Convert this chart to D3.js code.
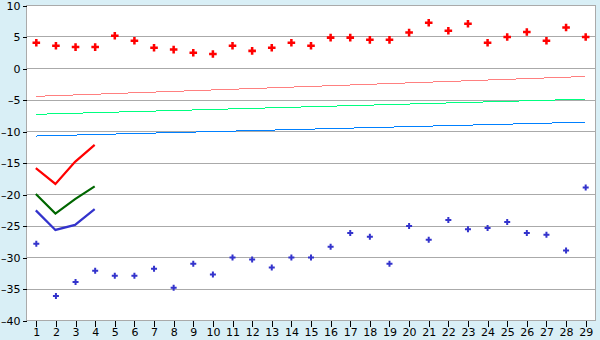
<!DOCTYPE html>
<html>
<head>
<meta charset="utf-8">
<script src="https://cdn.jsdelivr.net/npm/d3@7"></script>
<style>
  html, body { margin: 0; padding: 0; background: #d9eff6; }
  svg text { font-family: "DejaVu Sans", sans-serif; font-size: 11px; fill: #000; }
</style>
</head>
<body>
<svg id="chart" width="600" height="340"></svg>
<script>
var categories = d3.range(1, 30);
var yTicks = [10, 5, 0, -5, -10, -15, -20, -25, -30, -35, -40];

// scatter series
var redPoints = [4.1, 3.6, 3.4, 3.4, 5.2, 4.4, 3.3, 3.0, 2.5, 2.3, 3.6, 2.8, 3.3, 4.1, 3.6, 4.9, 4.9, 4.55, 4.55, 5.7, 7.25, 6.0, 7.1, 4.1, 5.0, 5.8, 4.4, 6.5, 5.0];
var bluePoints = [-27.8, -36.1, -33.9, -32.1, -32.9, -32.9, -31.8, -34.8, -31.0, -32.7, -30.0, -30.3, -31.6, -30.0, -30.0, -28.3, -26.1, -26.7, -31.0, -25.0, -27.2, -24.05, -25.5, -25.3, -24.35, -26.1, -26.4, -28.9, -18.9];

// short thick lines (first four categories)
var redLine = [-15.9, -18.4, -14.9, -12.2];
var greenLine = [-20.0, -23.1, -20.8, -18.8];
var blueLine = [-22.6, -25.7, -24.9, -22.4];

// thin trend lines: value at category 1 and at category 29
var trendCats = [1, 29];
var pinkTrend = [-4.5, -1.35];
var lightGreenTrend = [-7.35, -4.95];
var lightBlueTrend = [-10.8, -8.6];

var svg = d3.select("#chart");
var plotL = 26, plotR = 595, plotT = 5, plotB = 320;

var x = d3.scaleLinear().domain([0.5, 29.5]).range([plotL, plotR]);
var y = d3.scaleLinear().domain([-40, 10]).range([plotB, plotT]);

svg.append("rect")
  .attr("x", plotL).attr("y", plotT)
  .attr("width", plotR - plotL).attr("height", plotB - plotT)
  .attr("fill", "#fff");

// gridlines
svg.append("g").selectAll("line").data(yTicks).join("line")
  .attr("x1", plotL).attr("x2", plotR)
  .attr("y1", function (d) { return Math.round(y(d)) + 0.5; })
  .attr("y2", function (d) { return Math.round(y(d)) + 0.5; })
  .attr("stroke", "#aaa").attr("shape-rendering", "crispEdges");

// frame
svg.append("rect")
  .attr("x", plotL + 0.5).attr("y", plotT + 0.5)
  .attr("width", plotR - plotL).attr("height", plotB - plotT)
  .attr("fill", "none").attr("stroke", "#aaa")
  .attr("shape-rendering", "crispEdges");

// axes
var yAxis = d3.axisLeft(y).tickValues(yTicks).tickSize(4).tickPadding(2)
  .tickFormat(function (d) { return d < 0 ? "\u2013" + (-d) : d; });
var gy = svg.append("g").attr("transform", "translate(" + (plotL + 0.5) + ",0.5)").call(yAxis);
gy.select(".domain").remove();
gy.selectAll(".tick line").attr("stroke", "#000").attr("shape-rendering", "crispEdges");
gy.selectAll("text").attr("font-size", 11).attr("font-family", "DejaVu Sans");

var xAxis = d3.axisBottom(x).tickValues(categories).tickSize(6).tickPadding(2)
  .tickFormat(d3.format("d"));
var gx = svg.append("g").attr("transform", "translate(0.5," + (plotB + 0.5) + ")").call(xAxis);
gx.select(".domain").remove();
gx.selectAll(".tick line").attr("stroke", "#000").attr("shape-rendering", "crispEdges");
gx.selectAll("text").attr("font-size", 11).attr("font-family", "DejaVu Sans");

// trend lines
function trend(vals, color) {
  svg.append("path")
    .datum(trendCats.map(function (c, i) { return [c, vals[i]]; }))
    .attr("d", d3.line().x(function (d) { return x(d[0]); }).y(function (d) { return y(d[1]); }))
    .attr("fill", "none").attr("stroke", color).attr("stroke-width", 1)
    .attr("shape-rendering", "crispEdges");
}
trend(pinkTrend, "#ff8080");
trend(lightGreenTrend, "#00ff80");
trend(lightBlueTrend, "#0080ff");

// short thick lines
function thick(vals, color) {
  svg.append("path")
    .datum(vals)
    .attr("d", d3.line().x(function (d, i) { return x(categories[i]); }).y(function (d) { return y(d); }))
    .attr("fill", "none").attr("stroke", color).attr("stroke-width", 2.2)
    .attr("stroke-linejoin", "miter");
}
thick(redLine, "#ff0000");
thick(greenLine, "#006600");
thick(blueLine, "#3333cc");

// markers
function markers(vals, color, size) {
  svg.append("g").selectAll("path").data(vals).join("path")
    .attr("transform", function (d, i) { return "translate(" + (x(categories[i]) + 0.5) + "," + (y(d) + 0.5) + ")"; })
    .attr("d", d3.symbol().type(d3.symbolCross).size(size))
    .attr("fill", color);
}
markers(redPoints, "#ff0000", 32);
markers(bluePoints, "#3333cc", 20);
</script>
</body>
</html>
